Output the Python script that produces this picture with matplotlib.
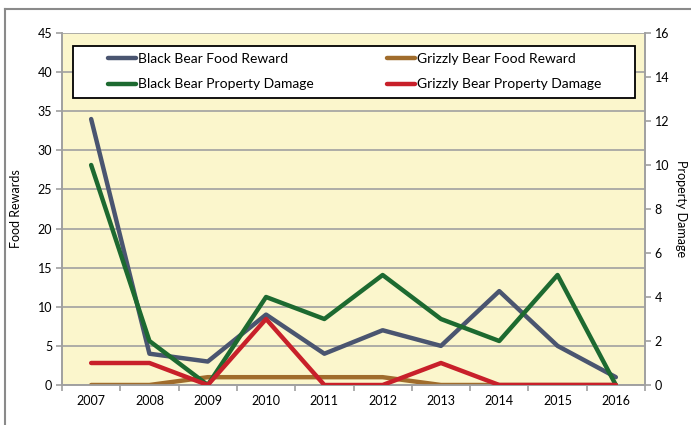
import numpy as np
import matplotlib
matplotlib.use("Agg")
import matplotlib.pyplot as plt
from matplotlib.lines import Line2D
from matplotlib.patches import Rectangle

plt.rcParams['font.family'] = ['Lato', 'DejaVu Sans']

years = ['2007', '2008', '2009', '2010', '2011', '2012', '2013', '2014', '2015', '2016']
black_food = [34, 4, 3, 9, 4, 7, 5, 12, 5, 1]
grizzly_food = [0, 0, 1, 1, 1, 1, 0, 0, 0, 0]
black_damage = [10, 2, 0, 4, 3, 5, 3, 2, 5, 0]
grizzly_damage = [1, 1, 0, 3, 0, 0, 1, 0, 0, 0]

c_black = '#4a5570'
c_grizzly = '#a06c2c'
c_bdmg = '#1d6a30'
c_gdmg = '#c8202a'
c_axis = '#a0a0a0'

W, H = 691, 425
fig = plt.figure(figsize=(W / 100, H / 100), dpi=100)
ax = fig.add_axes([62 / W, 1 - 385 / H, (645 - 62) / W, (385 - 33) / H])
ax.set_facecolor('#fbf6cc')

# outer frame (only top and left visible)
fig.add_artist(Line2D([5 / W, 5 / W], [1 - 9 / H, 0], transform=fig.transFigure, color='#8a8a8a', lw=1.5))
fig.add_artist(Line2D([5 / W, 1], [1 - 9 / H, 1 - 9 / H], transform=fig.transFigure, color='#8a8a8a', lw=1.5))

x = np.arange(len(years)) + 0.5
lw = 3.2
ax.plot(x, black_food, color=c_black, lw=lw, solid_capstyle='round', zorder=3)
ax.plot(x, grizzly_food, color=c_grizzly, lw=lw, solid_capstyle='round', zorder=3)

ax.set_xlim(0, len(years))
ax.set_ylim(0, 45)
ax.set_yticks(np.arange(0, 46, 5))
ax.yaxis.grid(True, color=c_axis, lw=1.2)
ax.set_axisbelow(True)
ax.set_xticks(np.arange(0, len(years) + 1))
ax.set_xticklabels([])
ax.set_xticks(x, minor=True)
ax.set_xticklabels(years, minor=True)
ax.tick_params(axis='x', which='minor', length=0, pad=7, labelsize=9)
ax.tick_params(axis='x', which='major', length=4, color=c_axis, width=1.2)
ax.tick_params(axis='y', length=4, color=c_axis, width=1.2, labelsize=9, pad=3)
for s in ax.spines.values():
    s.set_color(c_axis)
    s.set_linewidth(1.2)
ax.spines['top'].set_visible(False)
ax.set_ylabel('Food Rewards', fontsize=9, labelpad=11)

ax2 = ax.twinx()
ax2.plot(x, black_damage, color=c_bdmg, lw=lw, solid_capstyle='round', zorder=3)
ax2.plot(x, grizzly_damage, color=c_gdmg, lw=lw, solid_capstyle='round', zorder=3)
ax2.set_ylim(0, 16)
ax2.set_yticks(np.arange(0, 17, 2))
ax2.tick_params(axis='y', length=4, color=c_axis, width=1.2, labelsize=9, pad=3)
for s in ax2.spines.values():
    s.set_color(c_axis)
    s.set_linewidth(1.2)
ax2.spines['top'].set_visible(False)
ax2.set_ylabel('Property Damage', fontsize=9, rotation=270, labelpad=13)

# legend box
ax2.add_patch(Rectangle(((73 - 62) / 583, (385 - 98) / 352), (635 - 73) / 583, (98 - 46) / 352,
                        transform=ax2.transAxes, facecolor='white', edgecolor='black', lw=1.3, zorder=5))
handles = [Line2D([], [], color=c_black, lw=lw, solid_capstyle='round'),
           Line2D([], [], color=c_bdmg, lw=lw, solid_capstyle='round'),
           Line2D([], [], color=c_grizzly, lw=lw, solid_capstyle='round'),
           Line2D([], [], color=c_gdmg, lw=lw, solid_capstyle='round')]
labels = ['Black Bear Food Reward', 'Black Bear Property Damage',
          'Grizzly Bear Food Reward', 'Grizzly Bear Property Damage']
leg = ax2.legend(handles, labels, ncol=2, frameon=False, fontsize=10,
                 loc='upper left', bbox_to_anchor=((104 - 62) / 583, (385 - 49) / 352),
                 borderaxespad=0, borderpad=0.3, handlelength=2.0, handletextpad=0.15,
                 columnspacing=5.3, labelspacing=0.95)
leg.set_zorder(6)

fig.savefig('out.png', dpi=100)
